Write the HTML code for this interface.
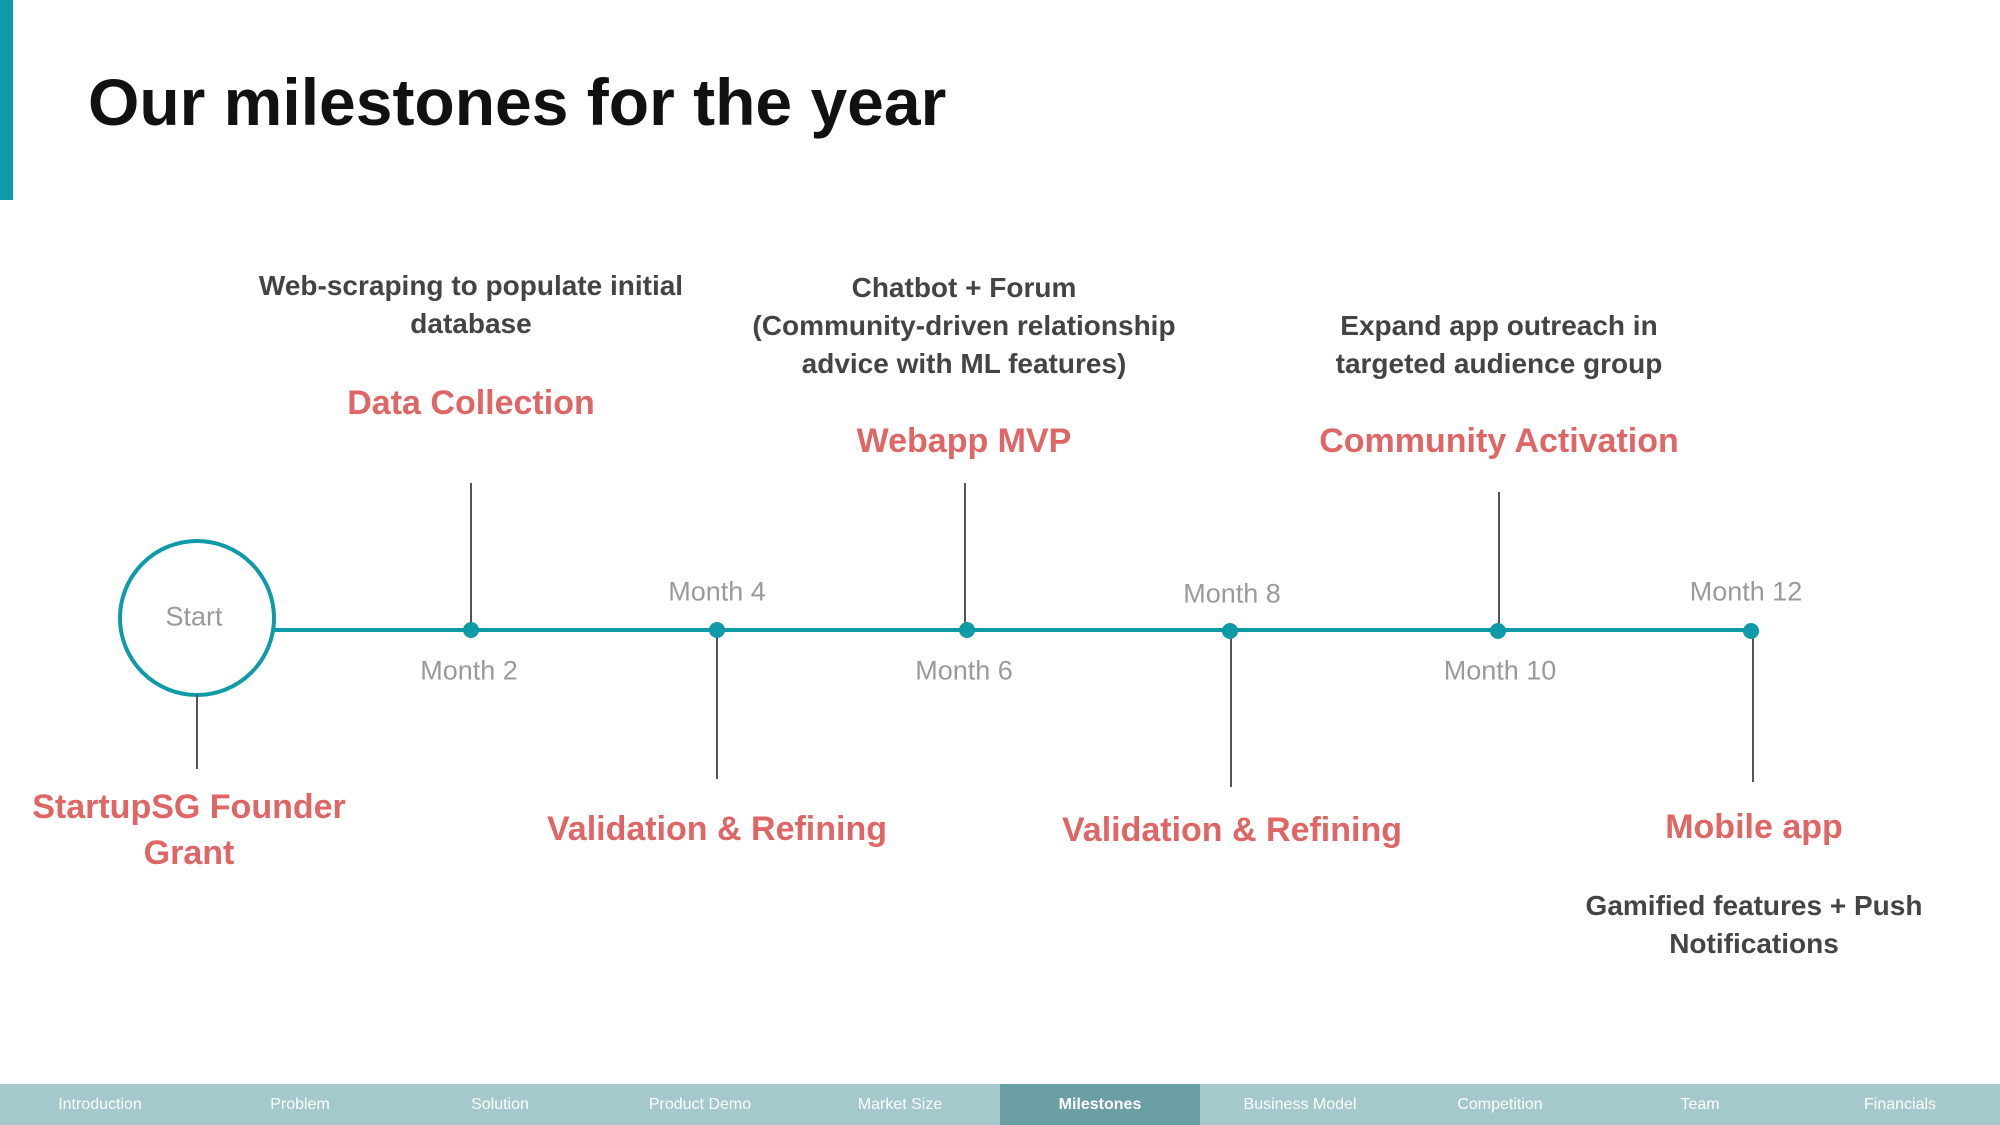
<!DOCTYPE html>
<html><head><meta charset="utf-8"><style>
body{margin:0;width:2000px;height:1125px;position:relative;background:#fff;font-family:"Liberation Sans",sans-serif;overflow:hidden}
.c{position:absolute;transform:translate(-50%,-50%);text-align:center;white-space:nowrap}
.m{color:#9a9a9a;font-size:27px}
.r{color:#e06666;font-size:34px;font-weight:bold;line-height:46px}
.d{color:#444;font-size:28px;font-weight:bold;line-height:38px}
.v{position:absolute;width:2px;background:#555}
.dot{position:absolute;width:16px;height:16px;border-radius:50%;background:#0e9aa7;transform:translate(-50%,-50%)}
.nav{position:absolute;top:1084px;left:0;width:2000px;height:41px;background:#a4c8cb;display:flex}
.nav div{flex:1;color:#fff;font-size:16px;text-align:center;line-height:41px}
.nav .a{background:#6a9fa6;font-weight:bold}
</style></head><body>
<div style="position:absolute;left:0;top:0;width:13px;height:200px;background:#0e9aa7"></div>
<div style="position:absolute;left:88px;top:64px;font-size:66px;font-weight:bold;color:#111">Our milestones for the year</div>

<div style="position:absolute;left:274px;top:628px;width:1477px;height:4px;background:#0e9aa7"></div>
<div style="position:absolute;left:118px;top:539px;width:150px;height:150px;border:4px solid #0e9aa7;border-radius:50%;background:#fff"></div>
<div class="c m" style="left:194px;top:617px">Start</div>

<div class="v" style="left:196px;top:695px;height:74px"></div>
<div class="v" style="left:470px;top:483px;height:147px"></div>
<div class="v" style="left:716px;top:630px;height:149px"></div>
<div class="v" style="left:964px;top:483px;height:147px"></div>
<div class="v" style="left:1230px;top:630px;height:157px"></div>
<div class="v" style="left:1498px;top:492px;height:138px"></div>
<div class="v" style="left:1752px;top:630px;height:152px"></div>

<div class="dot" style="left:471px;top:630px"></div>
<div class="dot" style="left:717px;top:630px"></div>
<div class="dot" style="left:967px;top:630px"></div>
<div class="dot" style="left:1230px;top:631px"></div>
<div class="dot" style="left:1498px;top:631px"></div>
<div class="dot" style="left:1751px;top:631px"></div>

<div class="c m" style="left:469px;top:671px">Month 2</div>
<div class="c m" style="left:717px;top:592px">Month 4</div>
<div class="c m" style="left:964px;top:671px">Month 6</div>
<div class="c m" style="left:1232px;top:594px">Month 8</div>
<div class="c m" style="left:1500px;top:671px">Month 10</div>
<div class="c m" style="left:1746px;top:592px">Month 12</div>

<div class="c r" style="left:471px;top:403px">Data Collection</div>
<div class="c r" style="left:964px;top:441px">Webapp MVP</div>
<div class="c r" style="left:1499px;top:441px">Community Activation</div>
<div class="c r" style="left:189px;top:830px">StartupSG Founder<br>Grant</div>
<div class="c r" style="left:717px;top:829px">Validation &amp; Refining</div>
<div class="c r" style="left:1232px;top:830px">Validation &amp; Refining</div>
<div class="c r" style="left:1754px;top:827px">Mobile app</div>

<div class="c d" style="left:471px;top:305px">Web-scraping to populate initial<br>database</div>
<div class="c d" style="left:964px;top:326px">Chatbot + Forum<br>(Community-driven relationship<br>advice with ML features)</div>
<div class="c d" style="left:1499px;top:345px">Expand app outreach in<br>targeted audience group</div>
<div class="c d" style="left:1754px;top:925px">Gamified features + Push<br>Notifications</div>

<div class="nav"><div>Introduction</div><div>Problem</div><div>Solution</div><div>Product Demo</div><div>Market Size</div><div class="a">Milestones</div><div>Business Model</div><div>Competition</div><div>Team</div><div>Financials</div></div>
</body></html>
